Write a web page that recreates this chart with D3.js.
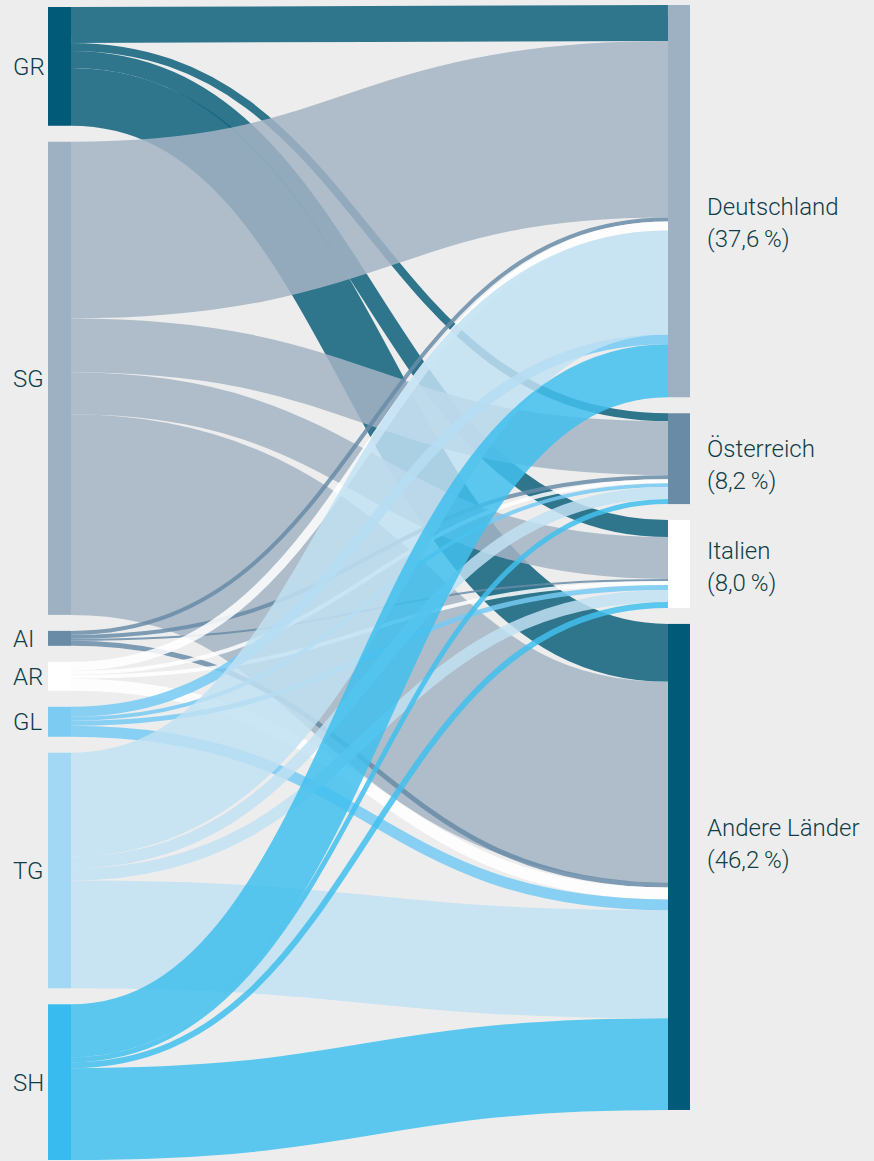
<!DOCTYPE html>
<html>
<head>
<meta charset="utf-8">
<script src="https://cdn.jsdelivr.net/npm/d3@7"></script>
<style>
  html, body { margin: 0; padding: 0; background: #ededed; }
  svg { display: block; }
</style>
</head>
<body>
<svg id="chart" width="874" height="1161"></svg>
<script>
// cantons (left) and destination countries (right)
const sources = ["GR", "SG", "AI", "AR", "GL", "TG", "SH"];
const targets = ["Deutschland", "Österreich", "Italien", "Andere Länder"];
const shares = ["37,6", "8,2", "8,0", "46,2"];

// flow from each canton (same order as sources) to each country
const toDeutschland = [36, 177, 4, 9, 10, 104, 53];
const toOesterreich = [8, 54, 4, 4, 4, 12, 5];
const toItalien = [17, 42, 2, 4, 5, 12, 6];
const toAndere = [58, 201, 5, 12, 11, 108, 92];

// in the original the TG band arrives in Deutschland above the GL band
const deutschlandOrder = ["GR", "SG", "AI", "AR", "TG", "GL", "SH"];

const sourceColors = ["#005a78", "#9eb1c2", "#698ba5", "#ffffff", "#7ccbf2", "#a3d8f5", "#38bcef"];
const linkColors = ["#0d607b", "#a3b4c4", "#698ca8", "#ffffff", "#76caf3", "#c1e1f2", "#41bfed"];
const targetColors = ["#9eb1c2", "#698ba5", "#ffffff", "#005a78"];

const width = 874, height = 1161;
const nodeW = 23;
const xLeft = 48, xRight = 668;
const topLeft = 7, topRight = 5, bottomRight = 1110;
const padLeft = 16, padRight = 16;

const series = [toDeutschland, toOesterreich, toItalien, toAndere];

const links = [];
sources.forEach((s, i) => {
  series.forEach((vals, j) => {
    if (vals[i] > 0) links.push({ source: i, target: j, value: vals[i] });
  });
});

const total = d3.sum(links, d => d.value);
const ky = d3.scaleLinear()
  .domain([0, total])
  .range([0, bottomRight - topRight - padRight * (targets.length - 1)]);

// left column
let y = topLeft;
const leftNodes = sources.map((name, i) => {
  const v = d3.sum(links.filter(l => l.source === i), l => l.value);
  const n = { name, value: v, y0: y, y1: y + ky(v), color: sourceColors[i] };
  y = n.y1 + padLeft;
  return n;
});

// right column
y = topRight;
const rightNodes = targets.map((name, j) => {
  const v = d3.sum(links.filter(l => l.target === j), l => l.value);
  const n = { name, value: v, y0: y, y1: y + ky(v), color: targetColors[j] };
  y = n.y1 + padRight;
  return n;
});

// stack links at the source (by target order) and at the target (by source order)
leftNodes.forEach((n, i) => {
  let yy = n.y0;
  links.filter(l => l.source === i)
    .sort((a, b) => a.target - b.target)
    .forEach(l => { l.w = ky(l.value); l.ys = yy + l.w / 2; yy += l.w; });
});
const rank = (l, j) => j === 0 ? deutschlandOrder.indexOf(sources[l.source]) : l.source;
rightNodes.forEach((n, j) => {
  let yy = n.y0;
  links.filter(l => l.target === j)
    .sort((a, b) => rank(a, j) - rank(b, j))
    .forEach(l => { l.yt = yy + l.w / 2; yy += l.w; });
});

const svg = d3.select("#chart");

svg.append("rect")
  .attr("width", width)
  .attr("height", height)
  .attr("fill", "#ededed");

const linkPath = d3.linkHorizontal()
  .source(d => [xLeft + nodeW, d.ys])
  .target(d => [xRight, d.yt]);

svg.append("g")
  .attr("fill", "none")
  .selectAll("path")
  .data(links)
  .join("path")
  .attr("d", linkPath)
  .attr("stroke", d => linkColors[d.source])
  .attr("stroke-opacity", 0.85)
  .attr("stroke-width", d => d.w);

svg.append("g")
  .selectAll("rect")
  .data(leftNodes)
  .join("rect")
  .attr("x", xLeft)
  .attr("y", d => d.y0)
  .attr("width", nodeW)
  .attr("height", d => d.y1 - d.y0)
  .attr("fill", d => d.color);

svg.append("g")
  .selectAll("rect")
  .data(rightNodes)
  .join("rect")
  .attr("x", xRight)
  .attr("y", d => d.y0)
  .attr("width", nodeW - 1)
  .attr("height", d => d.y1 - d.y0)
  .attr("fill", d => d.color);

const font = "Roboto, 'Open Sans', sans-serif";
const textColor = "#0f3d48";

svg.append("g")
  .selectAll("text")
  .data(leftNodes)
  .join("text")
  .attr("x", 13)
  .attr("y", d => (d.y0 + d.y1) / 2)
  .attr("dy", "0.35em")
  .attr("fill", textColor)
  .style("font-family", font)
  .style("font-weight", 300)
  .style("font-size", "24px")
  .text(d => d.name);

// hand-placed vertical shift of the two-line labels
const labelShift = [14, -2, -5, -31];

const rl = svg.append("g")
  .selectAll("text")
  .data(rightNodes)
  .join("text")
  .attr("fill", textColor)
  .style("font-family", font)
  .style("font-weight", 300)
  .style("font-size", "24px");

rl.append("tspan")
  .attr("x", 707)
  .attr("y", (d, i) => (d.y0 + d.y1) / 2 + labelShift[i])
  .text(d => d.name);

rl.append("tspan")
  .attr("x", 707)
  .attr("y", (d, i) => (d.y0 + d.y1) / 2 + labelShift[i] + 32)
  .text((d, i) => "(" + shares[i] + "\u2009%)");
</script>
</body>
</html>
